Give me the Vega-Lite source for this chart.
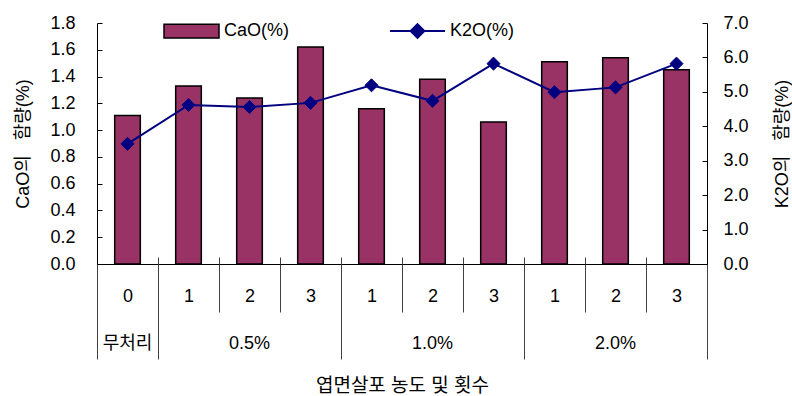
{
  "$schema": "https://vega.github.io/schema/vega-lite/v6.json",
  "width": 610,
  "height": 241,
  "autosize": {"type": "none"},
  "padding": {"left": 97, "top": 23, "right": 85, "bottom": 132},
  "background": "white",
  "config": {
    "view": {"stroke": null},
    "font": "Liberation Sans, Noto Sans CJK KR",
    "axis": {
      "labelFont": "Liberation Sans, Noto Sans CJK KR",
      "titleFont": "Liberation Sans, Noto Sans CJK KR",
      "labelColor": "black",
      "titleColor": "black",
      "labelFontSize": 18,
      "titleFontSize": 18,
      "titleFontWeight": "normal",
      "domainColor": "black",
      "tickColor": "black",
      "grid": false
    },
    "legend": {
      "labelFont": "Liberation Sans, Noto Sans CJK KR",
      "labelFontSize": 18,
      "labelColor": "black",
      "padding": 0,
      "title": null
    }
  },
  "data": {
    "values": [
      {"trt": "무처리|0", "CaO": 1.11, "K2O": 3.49},
      {"trt": "0.5%|1", "CaO": 1.33, "K2O": 4.62},
      {"trt": "0.5%|2", "CaO": 1.24, "K2O": 4.56},
      {"trt": "0.5%|3", "CaO": 1.62, "K2O": 4.68},
      {"trt": "1.0%|1", "CaO": 1.16, "K2O": 5.19},
      {"trt": "1.0%|2", "CaO": 1.38, "K2O": 4.74},
      {"trt": "1.0%|3", "CaO": 1.06, "K2O": 5.82},
      {"trt": "2.0%|1", "CaO": 1.51, "K2O": 4.99},
      {"trt": "2.0%|2", "CaO": 1.54, "K2O": 5.13},
      {"trt": "2.0%|3", "CaO": 1.45, "K2O": 5.82}
    ]
  },
  "layer": [
    {
      "mark": {"type": "bar", "width": {"band": 0.42}, "stroke": "black", "strokeWidth": 1.5},
      "encoding": {
        "x": {
          "field": "trt", "type": "nominal", "sort": null,
          "scale": {"type": "band", "paddingInner": 0, "paddingOuter": 0},
          "axis": {
            "orient": "bottom", "title": null, "tickBand": "extent", "tickSize": 48,
            "tickColor": "#404040", "labelAngle": 0, "labelBaseline": "middle", "labelPadding": -16,
            "labelExpr": "isValid(datum.value) ? split(datum.label, '|')[1] : ''"
          }
        },
        "y": {
          "field": "CaO", "type": "quantitative",
          "scale": {"domain": [0, 1.8], "nice": false},
          "axis": {
            "orient": "left", "title": "CaO의\u00a0\u00a0\u00a0함량(%)", "values": [0, 0.2, 0.4, 0.6, 0.8, 1.0, 1.2, 1.4, 1.6, 1.8],
            "format": ".1f", "tickSize": -5, "labelPadding": 27, "titlePadding": 17
          }
        },
        "fill": {
          "datum": "CaO(%)", "type": "nominal",
          "scale": {"domain": ["CaO(%)"], "range": ["#993366"]},
          "legend": {
            "orient": "none", "legendX": 66, "legendY": -20.5,
            "symbolType": "M-1,-0.25L1,-0.25L1,0.25L-1,0.25Z", "symbolSize": 3025,
            "symbolStrokeColor": "black", "symbolStrokeWidth": 1.5
          }
        }
      }
    },
    {
      "mark": {
        "type": "line", "strokeWidth": 2,
        "point": {"shape": "diamond", "size": 170, "filled": true, "fill": "#000080", "stroke": "#000080", "strokeWidth": 1}
      },
      "encoding": {
        "x": {
          "field": "trt", "type": "nominal", "sort": null,
          "axis": {
            "orient": "bottom", "title": "엽면살포 농도 및 횟수", "titleFontSize": 19,
            "values": ["무처리|0", "0.5%|2", "1.0%|2", "2.0%|2"],
            "ticks": false, "domain": false, "labelAngle": 0, "labelBaseline": "middle", "labelPadding": 79,
            "labelExpr": "isValid(datum.value) ? split(datum.label, '|')[0] : ''", "titlePadding": 24
          }
        },
        "y": {
          "field": "K2O", "type": "quantitative",
          "scale": {"domain": [0, 7], "nice": false},
          "axis": {
            "orient": "right", "title": "K2O의\u00a0\u00a0\u00a0함량(%)", "titleAngle": -90, "values": [0, 1, 2, 3, 4, 5, 6, 7],
            "format": ".1f", "tickSize": -5, "labelPadding": 21, "titlePadding": 43
          }
        },
        "stroke": {
          "datum": "K2O(%)", "type": "nominal",
          "scale": {"domain": ["K2O(%)"], "range": ["#000080"]},
          "legend": {
            "orient": "none", "legendX": 292, "legendY": -20.5,
            "symbolType": "M-1,0L1,0M0,-0.25L0.25,0L0,0.25L-0.25,0Z", "symbolSize": 3025,
            "symbolFillColor": "#000080", "symbolStrokeColor": "#000080", "symbolStrokeWidth": 2
          }
        }
      }
    },
    {
      "mark": {"type": "point", "opacity": 0},
      "encoding": {
        "x": {
          "field": "trt", "type": "nominal", "sort": null,
          "axis": {
            "orient": "bottom", "title": null, "labels": false, "domain": false, "tickBand": "extent",
            "tickColor": "#404040",
            "tickSize": {"condition": {"test": "!isValid(datum.value) || datum.value == '무처리|0' || indexof(datum.value, '|3') > 0", "value": 95}, "value": 0}
          }
        }
      }
    },
    {
      "mark": {"type": "point", "opacity": 0},
      "encoding": {
        "x": {
          "field": "trt", "type": "nominal", "sort": null,
          "axis": {
            "orient": "bottom", "title": null, "labels": false, "domain": false, "tickBand": "extent",
            "tickColor": "#404040", "tickSize": -7
          }
        }
      }
    }
  ],
  "resolve": {
    "scale": {"y": "independent", "fill": "independent", "stroke": "independent"},
    "axis": {"x": "independent", "y": "independent"},
    "legend": {"fill": "independent", "stroke": "independent"}
  }
}
